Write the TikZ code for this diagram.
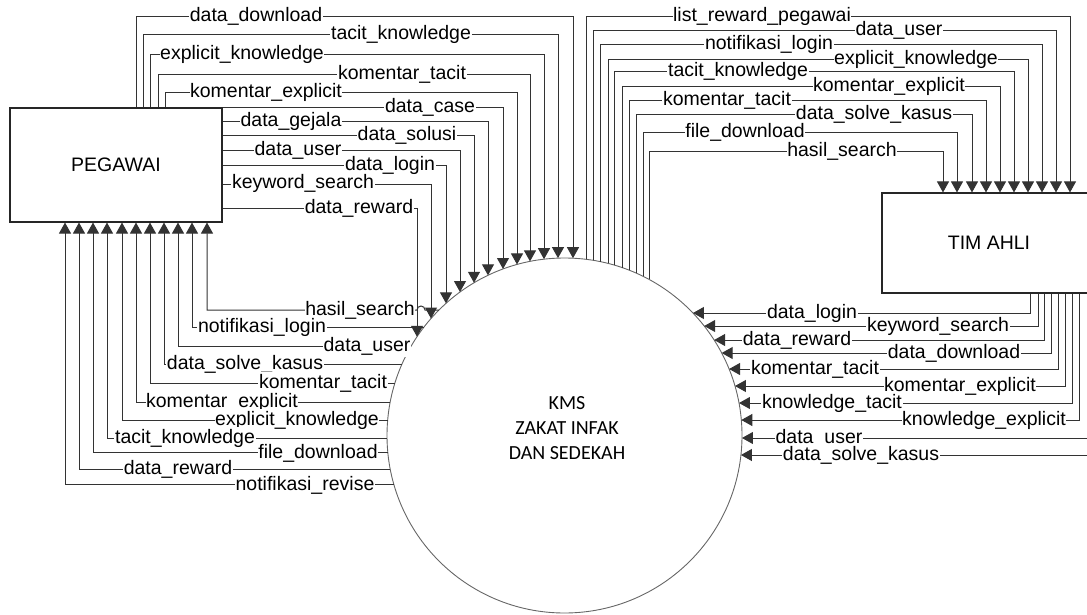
\documentclass[tikz,border=0pt]{standalone}
\usepackage{fontspec}
\setmainfont{Liberation Sans}
\newfontfamily\kmsfont{Carlito}
\usetikzlibrary{arrows.meta}

\begin{document}
\begin{tikzpicture}[x=1pt,y=-1pt,
  flow/.style={draw=black!80, line width=1pt},
  flowin/.style={flow, -{Triangle[length=11pt,width=12pt]}},
  lbl/.style={fill=white, inner xsep=0.6pt, inner ysep=2pt, text height=14pt, text depth=4pt,
              font=\fontsize{19.5}{22}\selectfont},
  entity/.style={draw=black!85, line width=1.1pt, fill=white, minimum width=212pt, inner sep=0pt,
                 font=\fontsize{19.5}{22}\selectfont},
  process/.style={circle, draw=black!60, line width=0.9pt, minimum size=355pt, inner sep=0pt}]

\useasboundingbox (0,0) rectangle (1087,615);
\clip (0,0) rectangle (1087,615);

% external entities and the process
\node[entity, minimum height=114pt] (pegawai) at (116,165) {PEGAWAI};
\node[entity, minimum height=100pt, minimum width=214pt] (timahli) at (989,243) {TIM AHLI};
\node[process] (kms) at (564.5,435.5) {};
\node[font=\kmsfont\fontsize{20}{25}\selectfont, align=center] (kmstext)
  at ([shift={(2.5pt,7.5pt)}]kms.center) {KMS\\ZAKAT INFAK\\DAN SEDEKAH};

% flow tables
% PEGAWAI (top edge) -> KMS : x start / level / x drop / text / label x
\def\TL{136/17/573/data\_download/256,
        143/35/558/tacit\_knowledge/401,
        150/55/544/explicit\_knowledge/242,
        158/75/530/komentar\_tacit/402,
        165/93/517/komentar\_explicit/266}
% PEGAWAI (right edge) -> KMS : level / x drop / text / label x
\def\TE{108/503/data\_case/430,
        122/488/data\_gejala/291,
        136/474/data\_solusi/407,
        151/460/data\_user/298,
        166/446/data\_login/390,
        184/431/keyword\_search/303,
        208/417/data\_reward/359}
% KMS -> PEGAWAI : level / x rise / text / label x
\def\LG{310/207/hasil\_search/360,
        327/192/notifikasi\_login/262,
        346/178/data\_user/367,
        364/164/data\_solve\_kasus/245,
        383/150/komentar\_tacit/323,
        402/136/komentar\_explicit/222,
        420/122/explicit\_knowledge/297,
        438/107/tacit\_knowledge/185,
        453/93/file\_download/318,
        469/79/data\_reward/178,
        485/65/notifikasi\_revise/305}
% KMS -> TIM AHLI : x start / level / x drop / text / label x
\def\TR{586/17/1070/list\_reward\_pegawai/762,
        593/31/1056/data\_user/899,
        600/45/1042/notifikasi\_login/769,
        608/60/1028/explicit\_knowledge/916,
        614/72/1014/tacit\_knowledge/738,
        622/87/1000/komentar\_explicit/889,
        629/101/986/komentar\_tacit/727,
        636/115/972/data\_solve\_kasus/874,
        643/133/957/file\_download/745,
        649/152/943/hasil\_search/842}
% TIM AHLI -> KMS : x start / level / text / label x
\def\BR{1030/313/data\_login/812,
        1038/326/keyword\_search/938,
        1044/340/data\_reward/797,
        1051/353/data\_download/954,
        1058/369/komentar\_tacit/815,
        1065/386/komentar\_explicit/960,
        1072/403/knowledge\_tacit/832,
        1079/420/knowledge\_explicit/984,
        1089/438/data\_user/819,
        1093/455/data\_solve\_kasus/861}

% connectors
\foreach \xs/\y/\xe/\txt/\lx [count=\i] in \TL {
  \pgfmathsetmacro\a{acos((\xe-564.5)/177.5)}
  \coordinate (tl\i) at ([shift={(\a:177.5pt)}]kms.center);
  \draw[flowin] (pegawai.north -| \xs,0) |- (tl\i |- 0,\y) -- (tl\i);
}
\foreach \y/\xe/\txt/\lx [count=\i] in \TE {
  \pgfmathsetmacro\a{acos((\xe-564.5)/177.5)}
  \coordinate (te\i) at ([shift={(\a:177.5pt)}]kms.center);
  \draw[flowin] (pegawai.east |- 0,\y) -| (te\i);
}
\foreach \y/\xv/\txt/\lx [count=\i] in \LG {
  \pgfmathsetmacro\a{180-asin((435.5-\y)/177.5)}
  \coordinate (lg\i) at ([shift={(\a:177.5pt)}]kms.center);
  \ifnum\i=1
    \draw[flowin] (lg\i) -- (lg\i -| 425,0) arc[start angle=0,end angle=180,radius=4pt]
      -| (pegawai.south -| \xv,0);
  \else
    \draw[flowin] (lg\i) -| (pegawai.south -| \xv,0);
  \fi
}
\foreach \xs/\y/\xe/\txt/\lx [count=\i] in \TR {
  \pgfmathsetmacro\a{acos((\xs-564.5)/177.5)}
  \coordinate (tr\i) at ([shift={(\a:177.5pt)}]kms.center);
  \draw[flowin] (tr\i) -- (tr\i |- 0,\y) -| (timahli.north -| \xe,0);
}
\foreach \xv/\y/\txt/\lx [count=\i] in \BR {
  \pgfmathsetmacro\a{asin((435.5-\y)/177.5)}
  \coordinate (br\i) at ([shift={(\a:177.5pt)}]kms.center);
  \draw[flowin] (timahli.south -| \xv,0) |- (br\i);
}

% flow labels
\foreach \xs/\y/\xe/\txt/\lx [count=\i] in \TL {\node[lbl] (ltl\i) at (\lx,\y) {\txt};}
\foreach \y/\xe/\txt/\lx [count=\i] in \TE {\node[lbl] (lte\i) at (\lx,\y) {\txt};}
\foreach \y/\xv/\txt/\lx [count=\i] in \LG {\node[lbl] (llg\i) at (\lx,\y) {\txt};}
\foreach \xs/\y/\xe/\txt/\lx [count=\i] in \TR {\node[lbl] (ltr\i) at (\lx,\y) {\txt};}
\foreach \xv/\y/\txt/\lx [count=\i] in \BR {\node[lbl] (lbr\i) at (\lx,\y) {\txt};}

\end{tikzpicture}
\end{document}
